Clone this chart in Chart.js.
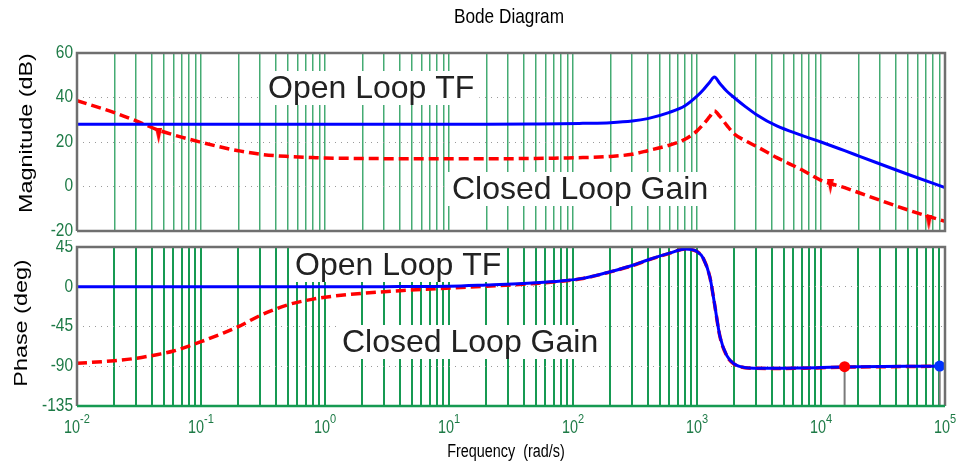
<!DOCTYPE html>
<html>
<head>
<meta charset="utf-8">
<title>Bode Diagram</title>
<script src="https://cdn.jsdelivr.net/npm/chart.js@4.4.1/dist/chart.umd.min.js"></script>
<style>
  body { margin: 0; background: #fff; }
  #wrap { position: relative; width: 959px; height: 464px; background: #fff; }
  #wrap canvas { position: absolute; left: 0; }
  #magChart { top: 0; }
  #phaseChart { top: 240px; }
</style>
</head>
<body>
<div id="wrap">
  <canvas id="magChart" width="959" height="240"></canvas>
  <canvas id="phaseChart" width="959" height="224"></canvas>
</div>
<script>
// frequency points (rad/s)
const freqs = [0.01, 0.02, 0.03, 0.045, 0.06, 0.1, 0.15, 0.2, 0.3, 0.5, 0.8, 1, 2, 4, 10, 20, 50, 80, 120, 200,
  300, 400, 600, 800, 1000, 1125, 1270, 1380, 1530, 1740, 2000, 2470, 3000, 4400, 7000, 10000, 15500, 20000, 50000, 100000];

// magnitude (dB)
const magOpenLoop = [28, 28, 28, 28, 28, 28, 28, 28, 28, 28, 28, 28, 28, 28, 28, 28, 28.1, 28.2, 28.4, 28.7,
  29.4, 30.5, 33.3, 36.3, 40.6, 43.5, 47.0, 49.2, 46.3, 42.8, 39.9, 35.8, 32.4, 27.2, 23.0, 20.0, 16.1, 13.8, 5.5, -0.5];
const magClosedLoop = [38.6, 33.2, 29.5, 25.4, 23.2, 19.9, 17.5, 16.1, 14.5, 13.5, 13.0, 12.8, 12.6, 12.5, 12.5, 12.5, 12.6, 12.8, 13.0, 13.5,
  14.5, 16.1, 18.6, 21.2, 25.0, 28.0, 31.5, 33.9, 31.5, 27.5, 23.6, 20.5, 18.1, 13.0, 7.5, 2.8, -0.5, -2.7, -10.5, -15.7];

// phase (deg)
const phaseOpenLoop = [0, 0, 0, 0, 0, 0, 0, 0, 0, 0, 0, 0, 0, 0.2, 0.5, 2.0, 4.5, 6.5, 9.5, 17.0,
  24.0, 30.3, 38.0, 42.8, 40.0, 32, 11, -18, -56, -78, -87.5, -91.6, -92.2, -92.4, -92.0, -91.5, -90.8, -90.6, -90.1, -89.8];
const phaseClosedLoop = [-86.7, -83.7, -81, -76.6, -72.8, -62.2, -52.6, -45.2, -32.5, -20.5, -14.0, -11.8, -7.4, -4.5, -1.5, 0.5, 3.8, 6.2, 9.3, 16.8,
  23.8, 30.1, 37.8, 42.6, 39.8, 31.8, 10.8, -18.2, -56.2, -78.2, -87.7, -91.8, -92.4, -92.6, -92.2, -91.7, -91.0, -90.8, -90.3, -90.0];

// small spike marks hanging under the closed loop magnitude curve
const spikeFreqs = [0.0455, 11900, 74000];
const spikeMag = [22.7, -0.1, -16.4];

// the two marked points on the phase plot
const markerFreqs = [15500, 90600];
const markerPhase = [-90.5, -89.8];
const markerColors = ['#ff0000', '#0033ff'];

// axis ticks
const magTicks = [-20, 0, 20, 40, 60];
const phaseTicks = [-135, -90, -45, 0, 45];
const decadeExps = [-2, -1, 0, 1, 2, 3, 4, 5];

const plain = "'Liberation Sans', Arial, sans-serif";
const tickGreen = '#1d7a46';

// grid lines at 1..9 x 10^k
const gridFreqs = [];
for (let e = -2; e < 5; e++) {
  for (let m = 1; m < 10; m++) gridFreqs.push(m * Math.pow(10, e));
}
gridFreqs.push(1e5);

function pts(xs, ys) {
  return xs.map((f, i) => ({ x: f, y: ys[i] }));
}

// Arial squeezed sideways, like the matlab export
function narrowText(ctx, text, x, y, size, squeeze, align, baseline) {
  ctx.save();
  ctx.translate(x, y);
  ctx.scale(squeeze, 1);
  ctx.font = size + 'px ' + plain;
  ctx.textAlign = align || 'left';
  ctx.textBaseline = baseline || 'alphabetic';
  ctx.fillText(text, 0, 0);
  ctx.restore();
}
function narrowWidth(ctx, text, size, squeeze) {
  ctx.font = size + 'px ' + plain;
  return ctx.measureText(text).width * squeeze;
}

// thin inverted triangle used for the spike marks
const spikeImg = document.createElement('canvas');
spikeImg.width = 7;
spikeImg.height = 16;
(function () {
  const c = spikeImg.getContext('2d');
  c.fillStyle = '#ff0000';
  c.beginPath();
  c.moveTo(0, 0);
  c.lineTo(7, 0);
  c.lineTo(3.5, 16);
  c.closePath();
  c.fill();
})();

// extra drawing: labels with white boxes, frame, titles, tick labels
const bodeDecor = {
  id: 'bodeDecor',
  beforeDatasetsDraw(chart, args, opts) {
    const ctx = chart.ctx;
    ctx.save();
    (opts.notes || []).forEach(n => {
      ctx.font = n.size + 'px ' + plain;
      const w = ctx.measureText(n.text).width;
      ctx.fillStyle = '#fff';
      ctx.fillRect(n.x - 5, n.y - 27, w + 10, 34);
      ctx.fillStyle = '#222';
      ctx.fillText(n.text, n.x, n.y);
    });
    ctx.restore();
  },
  afterDraw(chart, args, opts) {
    const ctx = chart.ctx, a = chart.chartArea;
    ctx.save();
    ctx.lineWidth = 2.5;
    ctx.strokeStyle = '#6f6f6f';
    ctx.beginPath();
    ctx.moveTo(a.left, a.bottom);
    ctx.lineTo(a.left, a.top);
    ctx.lineTo(a.right, a.top);
    ctx.lineTo(a.right, a.bottom);
    if (!opts.greenBottom) ctx.lineTo(a.left, a.bottom);
    ctx.stroke();
    if (opts.greenBottom) {
      ctx.strokeStyle = '#169a52';
      ctx.beginPath();
      ctx.moveTo(a.left, a.bottom);
      ctx.lineTo(a.right, a.bottom);
      ctx.stroke();
    }

    // y tick labels
    const ys = chart.scales.y;
    ctx.fillStyle = tickGreen;
    ys.ticks.forEach(t => {
      narrowText(ctx, String(t.value), a.left - 4, ys.getPixelForValue(t.value), 18, 0.86, 'right', 'middle');
    });

    ctx.fillStyle = '#000';
    if (opts.title) {
      narrowText(ctx, opts.title.text, opts.title.x, opts.title.y, 21, 0.82, 'center');
    }
    if (opts.yTitle) {
      const t = opts.yTitle;
      ctx.save();
      ctx.translate(t.x, t.y);
      ctx.rotate(-Math.PI / 2);
      ctx.scale(1.23, 1);
      ctx.font = '19px ' + plain;
      ctx.textAlign = 'center';
      ctx.fillText(t.text, 0, 0);
      ctx.restore();
    }
    if (opts.xTitle) {
      narrowText(ctx, opts.xTitle.text, opts.xTitle.x, opts.xTitle.y, 18, 0.8, 'center');
    }
    if (opts.decadeLabels) {
      const xs = chart.scales.x;
      ctx.fillStyle = tickGreen;
      decadeExps.forEach(e => {
        const px = xs.getPixelForValue(Math.pow(10, e));
        const w1 = narrowWidth(ctx, '10', 18, 0.8);
        const w2 = narrowWidth(ctx, String(e), 13, 0.85);
        const left = px - (w1 + w2) / 2;
        narrowText(ctx, '10', left, a.bottom + 27, 18, 0.8);
        narrowText(ctx, String(e), left + w1, a.bottom + 17, 13, 0.85);
      });
    }
    ctx.restore();
  }
};

function xAxis(gridColor, gridWidth, height) {
  return {
    type: 'logarithmic',
    min: 0.01,
    max: 1e5,
    afterBuildTicks: s => { s.ticks = gridFreqs.map(v => ({ value: v })); },
    afterFit: s => { s.height = height; },
    ticks: { display: false },
    grid: { color: gridColor, lineWidth: gridWidth, drawTicks: false },
    border: { display: false }
  };
}

function yAxis(min, max, ticks) {
  return {
    min: min,
    max: max,
    afterBuildTicks: s => { s.ticks = ticks.map(v => ({ value: v })); },
    afterFit: s => { s.width = 77; },
    ticks: { display: false },
    grid: { color: '#9a9a9a', lineWidth: 1, drawTicks: false },
    border: { display: false, dash: [1, 5] }
  };
}

const common = {
  responsive: false,
  animation: false,
  events: [],
  plugins: { legend: { display: false }, tooltip: { enabled: false } },
  elements: { point: { radius: 0 }, line: { cubicInterpolationMode: 'monotone' } }
};

new Chart(document.getElementById('magChart'), {
  type: 'line',
  data: {
    datasets: [
      { data: pts(freqs, magOpenLoop), borderColor: '#0000ff', borderWidth: 3 },
      { data: pts(spikeFreqs, spikeMag), showLine: false, pointStyle: spikeImg, pointRadius: 8 },
      { data: pts(freqs, magClosedLoop), borderColor: '#ff0000', borderWidth: 3.5, borderDash: [10, 5] }
    ]
  },
  options: Object.assign({}, common, {
    layout: { padding: { top: 53, right: 14, bottom: 7, left: 0 } },
    scales: { x: xAxis('rgba(22,150,80,0.8)', 1.5, 0), y: yAxis(-20, 60, magTicks) },
    plugins: Object.assign({}, common.plugins, {
      bodeDecor: {
        title: { text: 'Bode Diagram', x: 509, y: 23 },
        yTitle: { text: 'Magnitude (dB)', x: 32, y: 133 },
        notes: [
          { text: 'Open Loop TF', x: 268, y: 98, size: 32 },
          { text: 'Closed Loop Gain', x: 452, y: 199, size: 32 }
        ]
      }
    })
  }),
  plugins: [bodeDecor]
});

const markerSets = [];
markerFreqs.forEach((f, i) => {
  markerSets.push({ data: [{ x: f, y: markerPhase[i] }], showLine: false, pointRadius: 5.5,
    pointBackgroundColor: markerColors[i], pointBorderWidth: 0 });
  markerSets.push({ data: [{ x: f, y: markerPhase[i] }, { x: f, y: -135 }], borderColor: '#7a7a7a', borderWidth: 2 });
});

new Chart(document.getElementById('phaseChart'), {
  type: 'line',
  data: {
    datasets: markerSets.concat([
      { data: pts(freqs, phaseOpenLoop), borderColor: '#0000ff', borderWidth: 3 },
      { data: pts(freqs, phaseClosedLoop), borderColor: '#ff0000', borderWidth: 3.5, borderDash: [10, 5] }
    ])
  },
  options: Object.assign({}, common, {
    layout: { padding: { top: 7, right: 14, bottom: 0, left: 0 } },
    scales: { x: xAxis('#169a52', 2, 58), y: yAxis(-135, 45, phaseTicks) },
    plugins: Object.assign({}, common.plugins, {
      bodeDecor: {
        greenBottom: true,
        decadeLabels: true,
        yTitle: { text: 'Phase (deg)', x: 27, y: 83 },
        xTitle: { text: 'Frequency  (rad/s)', x: 506, y: 217 },
        notes: [
          { text: 'Open Loop TF', x: 295, y: 35, size: 32 },
          { text: 'Closed Loop Gain', x: 342, y: 112, size: 32 }
        ]
      }
    })
  }),
  plugins: [bodeDecor]
});
</script>
</body>
</html>
